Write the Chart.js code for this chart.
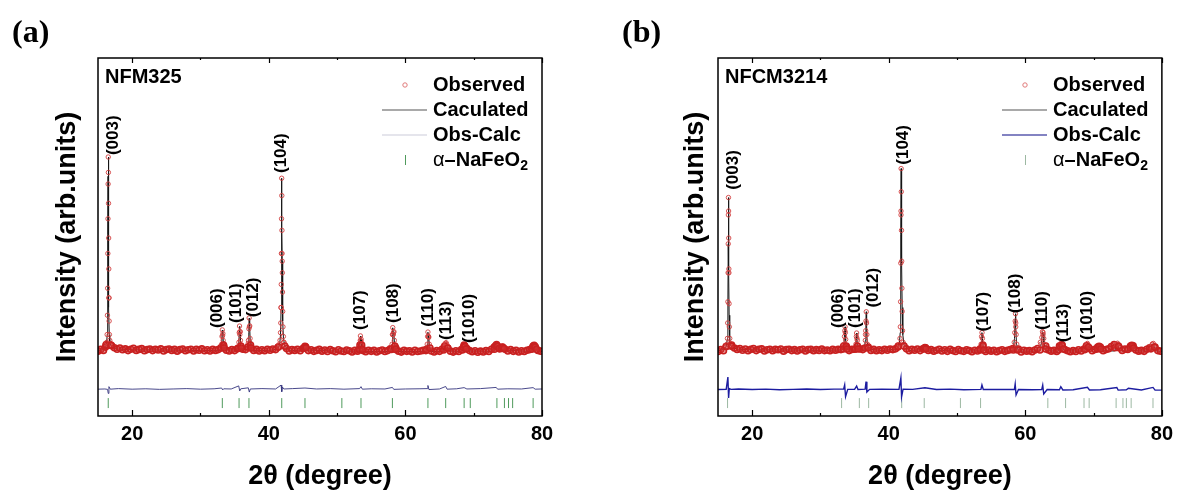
<!DOCTYPE html>
<html>
<head>
<meta charset="utf-8">
<script src="https://cdn.jsdelivr.net/npm/chart.js@4.4.1/dist/chart.umd.min.js"></script>
<style>
  html, body { margin: 0; padding: 0; background: #fff; }
  #page { position: relative; width: 1179px; height: 495px; overflow: hidden; }
  canvas { position: absolute; top: 0; }
  #cvA { left: 0; }
  #cvB { left: 620px; }
  .panel-tag { position: absolute; top: 15px; font: bold 32px "Liberation Serif", "Times New Roman", serif; line-height: 32px; }
</style>
</head>
<body>
<div id="page">
  <canvas id="cvA" width="590" height="495"></canvas>
  <canvas id="cvB" width="559" height="495"></canvas>
  <div class="panel-tag" style="left:12px">(a)</div>
  <div class="panel-tag" style="left:622px">(b)</div>
</div>
<script>
// XRD Rietveld refinement plots: (a) NFM325, (b) NFCM3214.
// Intensity is normalised: flat background ~0, (003) of NFM325 = 100.

// 2-theta sampling of the background (shared by both patterns)
const gridTheta = [
  15.0,15.4,15.8,16.2,16.6,17.0,17.4,17.8,18.2,18.6,
  19.0,19.4,19.8,20.2,20.6,21.0,21.4,21.8,22.2,22.6,
  23.0,23.4,23.8,24.2,24.6,25.0,25.4,25.8,26.2,26.6,
  27.0,27.4,27.8,28.2,28.6,29.0,29.4,29.8,30.2,30.6,
  31.0,31.4,31.8,32.2,32.6,33.0,33.4,33.8,34.2,34.6,
  35.0,35.4,35.8,36.2,36.6,37.0,37.4,37.8,38.2,38.6,
  39.0,39.4,39.8,40.2,40.6,41.0,41.4,41.8,42.2,42.6,
  43.0,43.4,43.8,44.2,44.6,45.0,45.4,45.8,46.2,46.6,
  47.0,47.4,47.8,48.2,48.6,49.0,49.4,49.8,50.2,50.6,
  51.0,51.4,51.8,52.2,52.6,53.0,53.4,53.8,54.2,54.6,
  55.0,55.4,55.8,56.2,56.6,57.0,57.4,57.8,58.2,58.6,
  59.0,59.4,59.8,60.2,60.6,61.0,61.4,61.8,62.2,62.6,
  63.0,63.4,63.8,64.2,64.6,65.0,65.4,65.8,66.2,66.6,
  67.0,67.4,67.8,68.2,68.6,69.0,69.4,69.8,70.2,70.6,
  71.0,71.4,71.8,72.2,72.6,73.0,73.4,73.8,74.2,74.6,
  75.0,75.4,75.8,76.2,76.6,77.0,77.4,77.8,78.2,78.6,
  79.0,79.4,79.8
];

// observed counts on that grid
const obsBaseA = [
  -0.6,0.3,-0.2,2.8,27,2.2,1.2,0.4,1.0,0.1,
  0.6,-0.3,0.4,0.9,-0.2,0.3,0.7,-0.4,0.2,0.5,
  -0.3,0.4,0.0,0.6,-0.5,0.2,0.5,-0.2,0.3,-0.6,
  0.2,0.5,-0.4,0.1,0.4,-0.5,0.3,-0.1,0.6,-0.4,
  0.1,-0.5,0.3,-0.2,0.2,1.2,2.0,-0.1,-0.5,0.2,
  -0.3,0.6,9.5,0.4,0.2,3.5,1.0,-0.2,0.3,-0.5,
  0.1,-0.4,0.4,-0.1,0.5,0.2,1.5,22,4.0,0.8,
  -0.5,0.2,-0.2,0.4,-0.4,0.8,1.6,-0.3,0.1,-0.7,
  -0.2,0.3,-0.6,0.0,-0.8,0.2,-0.4,-0.9,0.1,-0.5,
  -0.8,0.0,-0.4,-1.0,-0.2,-0.6,5.0,-0.3,-0.9,-0.1,
  -0.7,-0.2,-1.0,-0.4,0.0,-0.8,-0.3,0.6,8.0,1.0,
  -0.6,-1.1,-0.2,-0.7,-0.4,-1.0,-0.1,-0.8,-0.5,-0.2,
  -0.3,7.0,-0.5,-1.0,-0.3,-0.7,0.5,3.0,1.0,-0.6,
  -1.1,-0.4,-0.8,0.2,2.5,0.8,-0.3,-0.9,-0.4,-1.2,
  -0.6,-1.0,-0.3,-0.8,0.4,1.5,3.0,0.6,1.5,0.4,
  -0.5,0.2,-0.7,-0.2,-1.0,-0.4,-0.8,-0.1,0.2,1.2,
  1.6,-0.2,-0.6
];
const obsBaseB = [
  -0.8,0.2,-0.4,1.8,40,2.5,1.0,0.3,0.8,-0.1,
  0.5,-0.4,0.3,0.8,-0.3,0.4,0.6,-0.5,0.1,0.4,
  -0.4,0.3,0.1,0.5,-0.6,0.2,0.4,-0.3,0.2,-0.5,
  0.1,0.4,-0.5,0.2,0.3,-0.4,0.2,-0.2,0.5,-0.3,
  0.0,-0.4,0.3,-0.1,0.3,0.2,2.0,1.5,-0.3,0.3,
  0.4,5.0,0.6,0.2,8.0,1.5,-0.2,0.3,-0.4,0.1,
  -0.3,0.4,-0.1,0.5,0.2,0.6,2.0,72,3.0,0.6,
  -0.4,0.3,-0.1,0.5,-0.3,0.6,1.2,-0.2,0.2,-0.6,
  -0.1,0.4,-0.5,0.1,-0.7,0.3,-0.3,-0.8,0.2,-0.4,
  -0.7,0.1,-0.3,-0.9,-0.1,-0.5,0.6,2.0,-0.8,0.0,
  -0.6,-0.1,-0.9,-0.3,0.1,-0.7,-0.2,0.2,0.8,12,
  0.5,-1.0,-0.1,-0.6,-0.3,-0.9,0.0,0.8,4.0,8.0,
  2.0,0.0,-0.6,-0.2,-0.8,2.0,2.5,0.2,-0.4,-0.9,
  -0.3,-0.8,0.1,-0.5,0.5,3.0,0.8,-0.4,0.3,1.5,
  1.5,-0.4,0.2,0.6,1.8,2.8,3.0,1.0,-0.2,0.5,
  0.3,2.0,2.2,0.0,-0.6,-0.2,-0.7,0.4,1.2,3.0,
  1.5,-0.3,-0.6
];

// observed points on the reflections (finer steps)
const peakXA = [
  16.10,16.20,16.28,16.34,16.38,16.41,16.44,16.46,16.48,16.50,16.52,16.54,16.56,16.58,16.60,16.63,16.67,16.72,16.80,16.90,
  33.00,33.10,33.16,33.20,33.24,33.28,33.32,33.38,33.46,
  35.55,35.63,35.68,35.72,35.76,35.80,35.85,35.92,36.00,
  36.95,37.03,37.09,37.13,37.17,37.21,37.26,37.33,37.42,
  41.40,41.55,41.65,41.72,41.76,41.80,41.83,41.85,41.87,41.89,41.91,41.93,41.95,41.97,41.99,42.01,42.04,42.08,42.14,42.22,42.35,
  45.15,45.30,45.45,
  53.25,53.35,53.42,53.48,53.53,53.60,53.70,
  57.95,58.05,58.11,58.15,58.20,58.27,58.32,58.38,58.46,58.56,
  63.10,63.20,63.26,63.30,63.35,63.42,63.50,63.60,
  65.60,65.75,65.85,65.95,66.05,66.20,
  68.35,68.50,68.62,68.75,68.90,
  73.05,73.20,73.35,73.50,73.70,74.05,74.25,74.45,78.50,78.70,78.85,79.00,79.20
];
const peakYA = [
  1.5,2.5,4,8,18,32,50,68,86,100,92,76,58,42,27,15,8,5,3.5,2.5,
  1,3,7,10.4,7.5,8.5,5,2.5,1,
  1,4,9,12.4,8,9.5,5,2,1,
  1.5,5,11,16.6,12,12.5,6,2.5,1,
  1.5,3,5,9,14,22,34,50,68,89,80,62,50,46,40,30,20,12,7,4,2,
  1.2,1.9,1.2,
  0.3,2.5,7.3,4.5,5.5,2.5,0.3,
  0.3,3,8,11.6,8,9,9.5,5,2,0.3,
  0.3,3,7,9.3,7,6.5,3,1,
  0,2,3.4,3.8,3,1,
  0,1.4,2.2,1.8,0.6,
  0.4,2.2,2.8,2,0.8,0.8,1.4,0.8,0.4,2,2.4,1.6,0.4
];
const peakXB = [
  16.20,16.30,16.38,16.42,16.45,16.48,16.50,16.52,16.53,16.55,16.57,16.59,16.62,16.66,16.72,16.80,16.95,
  33.35,33.45,33.52,33.57,33.61,33.65,33.70,33.78,33.90,
  35.12,35.20,35.26,35.30,35.35,35.42,35.52,
  36.50,36.58,36.63,36.67,36.71,36.75,36.80,36.88,37.00,
  41.35,41.55,41.65,41.70,41.74,41.77,41.80,41.82,41.84,41.87,41.90,41.93,41.97,42.02,42.10,42.25,
  45.15,45.30,45.45,
  53.40,53.52,53.60,53.66,53.72,53.80,53.92,
  58.25,58.38,58.46,58.52,58.56,58.60,58.66,58.75,58.88,
  62.15,62.30,62.42,62.52,62.60,62.70,62.82,62.98,
  64.85,65.05,65.20,65.35,65.55,
  68.75,68.95,69.10,69.25,
  70.55,70.80,71.05,73.15,73.35,73.50,73.65,75.35,75.60,75.85,78.40,78.60,78.75,78.90
];
const peakYB = [
  1.8,3,6,14,25,40,55,70,79,72,58,42,24,12,6,3.5,2,
  0.5,3,7,10,12,9,5.5,2,0.5,
  0.5,3,7,8.8,6,2,0.5,
  1,5,10,15,19.8,14,8,3,1,
  1.5,3,6,12,25,45,70,94,82,62,46,32,20,10,4,2,
  0.6,1.3,0.6,
  0,3,7,9,6,2.5,0,
  0,4,9,15,18.8,14,8,3,0,
  0,3,6.5,9.5,9,6,3,0.5,
  0,2,3.4,2.5,0.5,
  0.2,2.2,3.4,1.5,
  0.5,1.9,0.5,1.2,3,3.5,2,1,2.4,1,0.6,3,3.4,1.5
];

// calculated profiles
const calcXA = [
  15.0,15.8,16.1,16.25,16.35,16.40,16.44,16.47,16.50,16.53,16.56,16.60,16.65,16.72,16.85,17.2,18,20,25,30,
  32.8,33.05,33.14,33.20,33.25,33.29,33.34,33.42,33.6,
  35.45,35.62,35.68,35.72,35.77,35.81,35.86,35.95,
  36.8,37.0,37.08,37.13,37.18,37.22,37.28,37.38,37.6,40,
  41.3,41.6,41.72,41.80,41.85,41.89,41.93,41.97,42.01,42.06,42.15,42.35,43,
  45.1,45.3,45.5,50,
  53.2,53.34,53.42,53.48,53.53,53.62,53.8,
  57.9,58.05,58.15,58.21,58.27,58.32,58.4,58.6,
  63.0,63.18,63.30,63.36,63.42,63.52,63.7,
  65.5,65.8,65.95,66.1,66.35,
  68.3,68.6,68.9,
  73.0,73.35,73.7,74.0,74.2,74.45,
  78.4,78.85,79.3,80
];
const calcYA = [
  -0.3,0.2,1.5,3,8,25,60,90,100,82,50,22,8,4,2.5,1.2,0.5,0.1,0,-0.3,
  -0.2,2.5,7,10.3,7.5,8.4,4.5,1.5,0,
  0,3.5,9,12.3,8.3,9.2,4,1,
  0,1.5,9,16.4,12,12.3,5,1.5,-0.3,-0.3,
  0.5,3,8,21,48,89,62,46,31,15,6,2,-0.4,
  0,1.7,0,-0.6,
  -0.6,2.5,7.2,4.6,5.4,2,-0.8,
  -0.8,3,11.5,8.2,9.2,9.4,3.5,-0.8,
  -0.8,2.6,9.2,7.2,6.4,2.5,-0.8,
  -0.8,2.8,3.7,2.6,-0.5,
  -0.8,2.1,-0.5,
  -0.7,2.7,-0.3,0.5,1.3,0,
  -0.8,2.3,-0.5,-0.9
];
const calcXB = [
  15.0,15.8,16.2,16.38,16.45,16.50,16.53,16.56,16.59,16.63,16.68,16.75,16.9,17.3,18,20,25,30,
  33.2,33.45,33.54,33.60,33.66,33.72,33.82,34.2,
  35.05,35.2,35.28,35.34,35.42,35.6,
  36.4,36.58,36.66,36.71,36.76,36.84,37.1,39,
  41.2,41.55,41.68,41.74,41.78,41.82,41.86,41.91,41.97,42.06,42.25,43,
  45.1,45.3,45.5,50,
  53.35,53.55,53.65,53.72,53.82,54.1,
  58.2,58.42,58.52,58.56,58.62,58.72,59.0,
  62.1,62.38,62.52,62.6,62.72,62.95,
  64.8,65.05,65.2,65.4,65.7,
  68.7,68.95,69.1,69.3,
  70.4,70.8,71.2,73.1,73.45,73.8,75.2,75.6,76.0,78.3,78.7,79.1,80
];
const calcYB = [
  -0.5,0.3,1.8,6,25,55,79,65,40,18,7,3.5,2,1,0.4,0.1,0,-0.2,
  0,3,9,12,8,5,1.5,0,
  0,3,8.8,6,2,0,
  0,5,14,19.8,13,4,0.5,-0.3,
  0.5,3,9,30,60,94,70,45,22,8,2.5,-0.3,
  0.2,1.2,0,-0.5,
  -0.5,4,9,6,2,-0.6,
  -0.6,6,16,18.8,12,3,-0.6,
  -0.6,4,9.5,8.5,4,-0.3,
  -0.7,1.8,3.3,2.2,-0.4,
  -0.6,2,3.4,1.5,
  -0.5,1.8,-0.4,-0.5,3.3,-0.3,-0.5,2.3,-0.4,-0.6,3.2,-0.4,-0.8
];

// difference curves (offset below the pattern)
const diffXA = [
  15,16.0,16.4,16.5,16.6,16.8,18,20,22,24,26,28,30,32,
  33.1,33.25,33.4,34.5,35.6,35.75,35.9,37.0,37.15,37.3,39,
  41.0,41.8,41.9,42.0,42.2,43.5,45.3,47,49,51,53.3,53.5,53.7,55,57,
  58.1,58.3,60,62,63.2,63.3,63.45,65.0,65.9,66.1,67.5,68.6,69,71,
  73.3,73.5,75,77,78.7,79,80
];
const diffYA = [
  -20.3,-20.2,-20.4,-22.5,-19.0,-20.3,-20.0,-20.3,-20.1,-20.4,-20.2,-20.0,-20.3,-20.1,
  -19.7,-20.7,-20.1,-20.2,-18.6,-21.2,-20.1,-19.6,-21.8,-20.2,-20.0,
  -20.2,-18.2,-21.6,-19.2,-20.2,-20.0,-19.7,-20.2,-20.0,-20.3,-20.0,-19.0,-20.3,-20.1,-20.2,
  -19.4,-20.4,-20.2,-20.1,-20.0,-18.4,-20.5,-20.2,-18.9,-20.3,-20.1,-19.5,-20.2,-20.0,
  -19.4,-20.3,-20.1,-20.2,-19.5,-20.3,-20.2
];
const diffXB = [
  15,16.2,16.45,16.55,16.65,16.9,18,20,22,24,26,28,30,32,
  33.4,33.55,33.68,34.0,35.0,35.3,35.5,36.55,36.68,36.8,37.2,39,
  41.5,41.78,41.88,42.1,43.5,45.3,47,49,51,53.5,53.65,53.85,56,
  58.4,58.52,58.65,59.0,61,62.4,62.55,62.7,63.2,65.0,65.2,65.5,67,69.1,69.4,71,
  73.4,73.6,74.8,75.1,77,78.7,79,80
];
const diffYB = [
  -20.5,-20.4,-14,-24.9,-20,-20.4,-20.2,-20.5,-20.3,-20.6,-20.4,-20.2,-20.5,-20.3,
  -20.2,-18.1,-24.2,-20.4,-20.4,-18.7,-20.5,-20.3,-16.4,-21.8,-20.4,-20.3,
  -20.4,-14.5,-24.4,-20.3,-20.4,-19.6,-20.5,-20.3,-20.6,-20.4,-18.1,-20.5,-20.4,
  -20.5,-17.6,-23.3,-20.5,-20.6,-20.5,-18.2,-22.8,-20.5,-20.6,-19,-20.7,-20.6,-19.3,-20.7,-20.6,
  -19.4,-20.8,-20.6,-19.8,-20.7,-19.4,-20.8,-20.8
];

// alpha-NaFeO2 reflection positions (Bragg ticks)
const braggA = [16.5,33.2,35.65,37.1,41.9,45.3,50.7,53.5,58.1,63.3,65.9,68.6,69.5,73.4,74.5,75.1,75.7,78.7];
const braggB = [16.4,33.1,35.7,37.06,41.9,45.2,50.5,53.45,63.3,65.9,68.6,69.35,73.3,74.3,74.8,75.5,78.7];
const BRAGG_LEVEL = -27.5;

// Miller index labels and where they sit (2-theta, intensity)
const hklLabels = ["(003)","(006)","(101)","(012)","(104)","(107)","(108)","(110)","(113)","(1010)"];
const hklXA = [17.2,32.4,35.3,37.7,41.9,53.45,58.2,63.35,66.0,69.35];
const hklYA = [101,11.4,14,17,91.7,10.4,14,12,5.2,3.6];
const hklXB = [17.25,32.6,35.06,37.7,42.1,53.8,58.5,62.5,65.55,69.1];
const hklYB = [83,11.4,11.4,22,96,9.6,19,10.4,4,5.2];

const xTickLabels = [20, 40, 60, 80];
const xMinorTicks = [30, 50, 70];

const FONT = '"Liberation Sans", Arial, sans-serif';

function pts(xs, ys) { return xs.map((x, i) => ({ x: x, y: ys[i] })); }

// points near the background are drawn heavier so they merge into a band
const onBackground = c => c.raw && c.raw.y < 3;

// frame, inward ticks, hkl labels, sample name and legend
function decorPlugin(p) {
  return {
    id: "decor",
    afterDatasetsDraw(chart) {
      const ctx = chart.ctx, a = chart.chartArea;
      const xs = chart.scales.x, ys = chart.scales.y;
      ctx.save();
      ctx.strokeStyle = "#000";
      ctx.lineWidth = 1.5;
      ctx.strokeRect(a.left, a.top, a.right - a.left, a.bottom - a.top);

      ctx.lineWidth = 1.2;
      const tick = (v, len) => {
        const px = Math.round(xs.getPixelForValue(v)) + 0.5;
        ctx.beginPath();
        ctx.moveTo(px, a.bottom); ctx.lineTo(px, a.bottom - len);
        ctx.moveTo(px, a.top); ctx.lineTo(px, a.top + len - 1);
        ctx.stroke();
      };
      xTickLabels.forEach(v => tick(v, 6));
      xMinorTicks.forEach(v => tick(v, 3));

      ctx.fillStyle = "#000";
      ctx.font = "bold 17px " + FONT;
      ctx.textAlign = "left";
      ctx.textBaseline = "middle";
      hklLabels.forEach((t, i) => {
        ctx.save();
        ctx.translate(xs.getPixelForValue(p.hklX[i]), ys.getPixelForValue(p.hklY[i]));
        ctx.rotate(-Math.PI / 2);
        ctx.fillText(t, 0, 0);
        ctx.restore();
      });

      ctx.font = "bold 20px " + FONT;
      ctx.fillText(p.name, a.left + 7, a.top + 19);

      // legend
      const tx = a.left + 335, sx = a.left + 307;
      const rows = [27, 52, 77, 102].map(d => a.top + d);
      ctx.fillText("Observed", tx, rows[0]);
      ctx.fillText("Caculated", tx, rows[1]);
      ctx.fillText("Obs-Calc", tx, rows[2]);
      ctx.font = "20px " + FONT;
      ctx.fillText("α", tx, rows[3]);
      const aw = ctx.measureText("α").width;
      ctx.font = "bold 20px " + FONT;
      ctx.fillText("–NaFeO", tx + aw, rows[3]);
      const nw = ctx.measureText("–NaFeO").width;
      ctx.font = "bold 14px " + FONT;
      ctx.fillText("2", tx + aw + nw, rows[3] + 6);

      ctx.lineWidth = 1;
      ctx.strokeStyle = "#e07a7a";
      ctx.beginPath(); ctx.arc(sx, rows[0], 2.2, 0, Math.PI * 2); ctx.stroke();
      ctx.lineWidth = 1.3;
      ctx.strokeStyle = "#8c8c8c";
      ctx.beginPath(); ctx.moveTo(a.left + 284, rows[1]); ctx.lineTo(a.left + 329, rows[1]); ctx.stroke();
      ctx.strokeStyle = p.diffLegendColor;
      ctx.beginPath(); ctx.moveTo(a.left + 284, rows[2]); ctx.lineTo(a.left + 329, rows[2]); ctx.stroke();
      ctx.lineWidth = 1;
      ctx.strokeStyle = p.tickColor;
      ctx.beginPath(); ctx.moveTo(sx + 0.5, rows[3] - 5); ctx.lineTo(sx + 0.5, rows[3] + 5); ctx.stroke();
      ctx.restore();
    }
  };
}

function makePanel(id, p) {
  return new Chart(document.getElementById(id), {
    type: "scatter",
    data: {
      datasets: [
        {
          label: "Observed",
          data: pts(gridTheta, p.obsBase).concat(pts(p.peakX, p.peakY)),
          showLine: false,
          pointStyle: "circle",
          pointRadius: c => onBackground(c) ? 3 : 2.2,
          pointBorderWidth: c => onBackground(c) ? 1.6 : 0.9,
          pointBorderColor: c => onBackground(c) ? "#c82020" : "#d24040",
          pointBackgroundColor: c => onBackground(c) ? "rgba(210,50,50,0.45)" : "rgba(0,0,0,0)"
        },
        {
          label: "Caculated",
          data: pts(p.calcX, p.calcY),
          showLine: true,
          borderColor: "#151515",
          borderWidth: 1,
          pointRadius: 0
        },
        {
          label: "Obs-Calc",
          data: pts(p.diffX, p.diffY),
          showLine: true,
          borderColor: p.diffColor,
          borderWidth: p.diffWidth,
          pointRadius: 0
        },
        {
          label: "α–NaFeO2",
          data: p.bragg.map(v => ({ x: v, y: BRAGG_LEVEL })),
          showLine: false,
          pointStyle: "line",
          pointRotation: 90,
          pointRadius: 5,
          pointBorderWidth: 1,
          pointBorderColor: p.tickColor
        }
      ]
    },
    options: {
      responsive: false,
      animation: false,
      events: [],
      layout: { padding: { top: 58, right: p.padRight, left: 0, bottom: 0 } },
      plugins: { legend: { display: false }, tooltip: { enabled: false } },
      scales: {
        x: {
          type: "linear",
          min: 15,
          max: 80,
          grid: { display: false, drawTicks: false },
          border: { display: false },
          afterBuildTicks: s => { s.ticks = xTickLabels.map(v => ({ value: v })); },
          afterFit: s => { s.height = 79; },
          ticks: { color: "#000", padding: 6, maxRotation: 0, font: { family: FONT, size: 20, weight: "bold" } },
          title: {
            display: true, text: "2θ (degree)", color: "#000",
            font: { family: FONT, size: 27, weight: "bold" },
            padding: { top: 0, bottom: 2 }
          }
        },
        y: {
          min: -34.2,
          max: 151.3,
          grid: { display: false, drawTicks: false },
          border: { display: false },
          ticks: { display: false },
          afterFit: s => { s.width = 98; },
          title: {
            display: true, text: "Intensity (arb.units)", color: "#000",
            font: { family: FONT, size: 27, weight: "bold" },
            padding: { top: p.yTitlePad, bottom: 0 }
          }
        }
      }
    },
    plugins: [decorPlugin(p)]
  });
}

makePanel("cvA", {
  name: "NFM325",
  obsBase: obsBaseA, peakX: peakXA, peakY: peakYA,
  calcX: calcXA, calcY: calcYA,
  diffX: diffXA, diffY: diffYA,
  bragg: braggA,
  hklX: hklXA, hklY: hklYA,
  diffColor: "#34347e", diffWidth: 0.9,
  diffLegendColor: "#dcdce6",
  tickColor: "#4f9a5c",
  padRight: 48, yTitlePad: 51
});

makePanel("cvB", {
  name: "NFCM3214",
  obsBase: obsBaseB, peakX: peakXB, peakY: peakYB,
  calcX: calcXB, calcY: calcYB,
  diffX: diffXB, diffY: diffYB,
  bragg: braggB,
  hklX: hklXB, hklY: hklYB,
  diffColor: "#1c1ca0", diffWidth: 1.4,
  diffLegendColor: "#5a5aae",
  tickColor: "#9cb8a2",
  padRight: 17, yTitlePad: 59
});
</script>
</body>
</html>
